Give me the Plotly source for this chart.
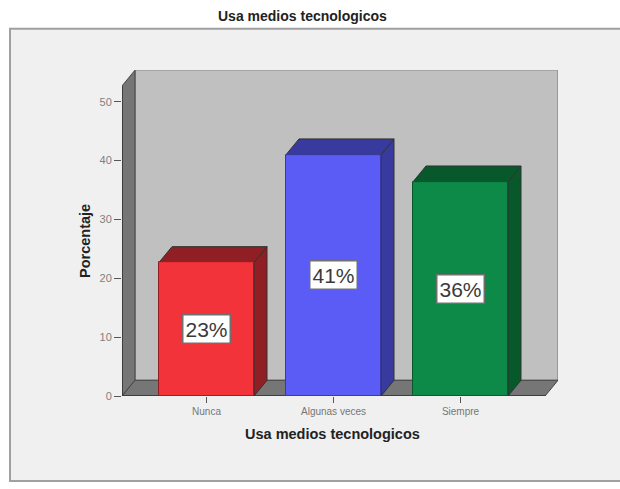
import plotly.graph_objects as go

categories = ["Nunca", "Algunas veces", "Siempre"]
values = [22.7, 41.0, 36.4]
labels = ["23%", "41%", "36%"]
front_colors = ["#f2333a", "#5a5cf5", "#0e8a48"]
side_colors = ["#8f1f24", "#383a9e", "#07592c"]
y_ticks = [0, 10, 20, 30, 40, 50]

W, H = 620, 489
L, R, B, T = 122, 558, 401, 71
unit_x = 127.0
unit_y = 5.96
dx = 13 / unit_x
dy = 16 / unit_y
half = 95 / unit_x / 2
x0 = -84.5 / unit_x
x1 = x0 + 423 / unit_x
top = (B - (T + 16)) / unit_y
x_range = [x0, x1 + dx]
y_range = [0, top + dy]

fig = go.Figure()


def poly(xs, ys, fill, line="#555555"):
    fig.add_trace(go.Scatter(x=xs, y=ys, mode="lines", fill="toself", fillcolor=fill,
                             line=dict(color=line, width=1), hoverinfo="skip", showlegend=False))


poly([x0 + dx, x1 + dx, x1 + dx, x0 + dx, x0 + dx], [dy, dy, top + dy, top + dy, dy], "#c0c0c0", "#707070")
poly([x0, x0 + dx, x0 + dx, x0, x0], [0, dy, top + dy, top, 0], "#767676", "#444444")
poly([x0, x1, x1 + dx, x0 + dx, x0], [0, 0, dy, dy, 0], "#767676", "#444444")

for i, v in enumerate(values):
    c = side_colors[i]
    poly([i + half, i + half + dx, i + half + dx, i + half, i + half], [0, dy, v + dy, v, 0], c, "#333333")
    poly([i - half, i + half, i + half + dx, i - half + dx, i - half], [v, v, v + dy, v + dy, v], c, "#333333")

fig.add_trace(go.Scatter(x=[x0, x1], y=[0, 0], mode="lines", line=dict(color="#333333", width=1.5),
                         hoverinfo="skip", showlegend=False))
fig.add_trace(go.Scatter(x=[x0, x0], y=[0, top], mode="lines", line=dict(color="#333333", width=1.5),
                         hoverinfo="skip", showlegend=False))

# Front faces sit on an overlaying pair of axes so they draw above the polygons.
fig.add_trace(go.Bar(x=[0, 1, 2], y=values, width=2 * half, xaxis="x2", yaxis="y2",
                     marker=dict(color=front_colors, line=dict(color=side_colors, width=1)),
                     hoverinfo="skip", showlegend=False))

for i, v in enumerate(values):
    fig.add_annotation(x=i, y=v / 2, text=labels[i], showarrow=False, bgcolor="white",
                       bordercolor="#707070", borderwidth=1.5, borderpad=2,
                       font=dict(family="Liberation Sans", size=21, color="#3a3a3a"))

fig.update_layout(
    width=W, height=H, margin=dict(l=0, r=0, t=0, b=0), paper_bgcolor="white",
    plot_bgcolor="rgba(0,0,0,0)", autosize=False, bargap=0,
    xaxis=dict(domain=[L / W, R / W], range=x_range, tickmode="array", tickvals=[0, 1, 2],
               ticktext=categories, ticks="outside", ticklen=6, tickcolor="#555555", showgrid=False,
               zeroline=False, showline=False, tickfont=dict(family="Liberation Sans", size=10, color="#777777")),
    yaxis=dict(domain=[1 - B / H, 1 - T / H], range=y_range, tickmode="array", tickvals=y_ticks,
               ticks="outside", ticklen=7, tickcolor="#555555", showgrid=False, zeroline=False, showline=False,
               tickfont=dict(family="Liberation Sans", size=11, color="#808080")),
    xaxis2=dict(domain=[L / W, R / W], range=x_range, overlaying="x", visible=False, anchor="y2"),
    yaxis2=dict(domain=[1 - B / H, 1 - T / H], range=y_range, overlaying="y", visible=False, anchor="x2"),
    shapes=[dict(type="rect", xref="paper", yref="paper", x0=10 / W, x1=1.2, y0=1 - 487 / H, y1=1 - 29 / H,
                 fillcolor="#f0f0f0", line=dict(color="#a0a0a0", width=2), layer="below")],
    annotations=list(fig.layout.annotations) + [
        dict(xref="paper", yref="paper", x=302 / W, y=1 - 16 / H, xanchor="center", yanchor="middle",
             text="<b>Usa medios tecnologicos</b>", showarrow=False,
             font=dict(family="Liberation Sans", size=14, color="#222222")),
        dict(xref="paper", yref="paper", x=332 / W, y=1 - 439 / H, xanchor="center", yanchor="middle",
             text="<b>Usa medios tecnologicos</b>", showarrow=False,
             font=dict(family="Liberation Sans", size=14.5, color="#222222")),
        dict(xref="paper", yref="paper", x=85 / W, y=1 - 244 / H, xanchor="center", yanchor="middle",
             text="<b>Porcentaje</b>", showarrow=False, textangle=-90,
             font=dict(family="Liberation Sans", size=14.5, color="#222222")),
    ],
)

fig.write_html("out.html", config={"displayModeBar": False},
               post_script="document.body.style.margin='0';document.body.style.overflow='hidden';")
